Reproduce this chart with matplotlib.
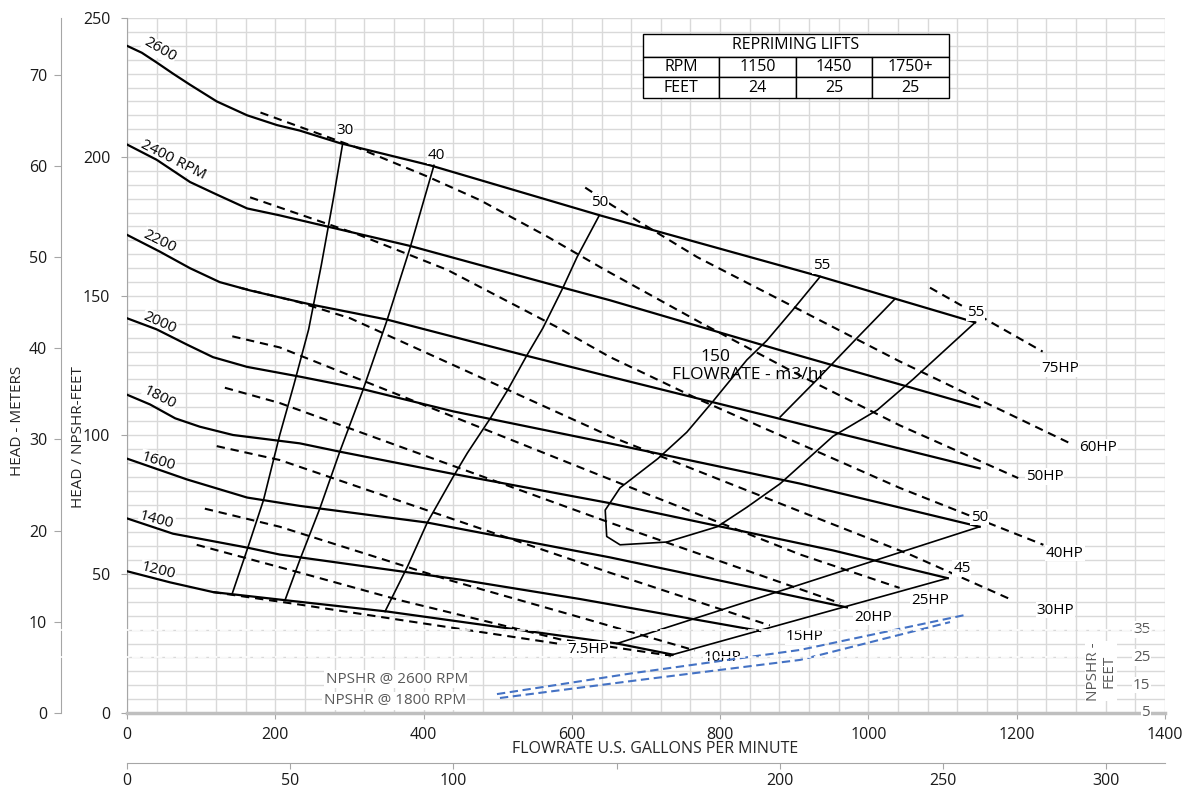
import numpy as np
import matplotlib
matplotlib.use('Agg')
import matplotlib.pyplot as plt
import matplotlib.transforms as mtransforms
from matplotlib.lines import Line2D

plt.rcParams['font.family'] = ['Open Sans', 'DejaVu Sans']

# ==============================
# data: head curves (gpm, ft)
# ==============================
rpm_labels = ['2600', '2400 RPM', '2200', '2000', '1800', '1600', '1400', '1200']

rpm_2600_q = [0, 20, 40, 62, 85, 121, 162, 202, 233, 287, 409, 638, 935, 1144]
rpm_2600_h = [240, 237.5, 234, 230, 226, 220, 215, 211.5, 209.5, 205, 197, 179, 157, 140.5]
rpm_2400_q = [0, 40, 85, 121, 162, 206, 270, 382, 588, 651, 881, 1150]
rpm_2400_h = [204.5, 199, 191, 186.5, 181.5, 179, 175, 168, 153, 148.5, 130.5, 110]
rpm_2200_q = [0, 44, 85, 125, 166, 206, 247, 351, 539, 651, 908, 1150]
rpm_2200_h = [172, 166, 160, 155, 152, 149.5, 147, 141.5, 128.5, 121, 104, 88]
rpm_2000_q = [0, 40, 81, 116, 162, 233, 318, 440, 651, 908, 1150]
rpm_2000_h = [142, 138, 132.5, 128, 124.5, 121, 116.5, 108.5, 97, 82.5, 67]
rpm_1800_q = [0, 31, 65, 98, 143, 233, 287, 440, 651, 952, 1107]
rpm_1800_h = [114.5, 111, 106, 103, 100, 97, 94, 86, 75.5, 58.5, 48.5]
rpm_1600_q = [0, 81, 162, 233, 405, 651, 971]
rpm_1600_h = [91.5, 84, 77.5, 74.5, 68.5, 56, 38]
rpm_1400_q = [0, 62, 162, 206, 449, 611, 854]
rpm_1400_h = [70, 64.5, 59.5, 57, 48, 41, 29.5]
rpm_1200_q = [0, 58, 116, 216, 351, 661, 736]
rpm_1200_h = [51, 47, 43.5, 40.5, 36.5, 25, 21]

# label spots and angles for the speed curves
rpm_lab_q = [44, 62, 44, 44, 44, 42, 40, 42]
rpm_lab_h = [238.5, 199, 169.5, 140.5, 113.5, 90.5, 69.5, 51]
rpm_lab_rot = [-30, -27, -26, -24, -27, -17, -15, -14]

# efficiency lines (%)
eff30_q = [291, 278, 262, 245, 225, 206, 184, 163, 142]
eff30_h = [205, 184.5, 161, 138, 118, 100, 76.5, 59.5, 43]
eff40_q = [414, 382, 351, 318, 287, 260, 233, 213]
eff40_h = [197, 167.5, 141.5, 116, 94, 73.5, 55, 40.5]
eff50_q = [637, 607, 588, 561, 539, 513, 490, 459, 440, 405, 378, 348]
eff50_h = [179, 164, 153, 138.5, 128.5, 116, 106, 93.5, 85, 68.5, 52.5, 36.5]
eff55_q = [935, 898, 863, 836, 790, 755, 716, 665, 645, 647, 665, 728, 796, 836, 881, 952, 1012, 1060, 1144]
eff55_h = [157, 145, 134, 127, 112, 101, 91.5, 81, 73, 63.5, 60.5, 61.5, 67, 74, 82.5, 99.5, 109, 120, 140.5]
eff55b_q = [1036, 985, 931, 881]
eff55b_h = [149, 135, 120, 106.5]
eff50r_q = [661, 1150]
eff50r_h = [25, 67]
eff45_q = [736, 1107]
eff45_h = [21, 48.5]

eff_labels = ['30', '40', '50', '55', '55', '50', '45']
eff_lab_q = [294, 417, 638, 937, 1144, 1150, 1126]
eff_lab_h = [209.5, 200.5, 183.5, 161, 144, 70.5, 52]

# horsepower lines (dashed)
hp50_q = [180, 314, 405, 476, 566, 644, 773, 907, 1042, 1202]
hp50_h = [216, 203, 193, 184.5, 171.5, 159.5, 140.5, 121.5, 103.5, 84.5]
hp40_q = [166, 310, 432, 580, 651, 773, 1042, 1236]
hp40_h = [185.5, 172.3, 159.4, 138.8, 128.1, 112.6, 81, 60.5]
hp30_q = [152, 229, 301, 652, 908, 1056, 1195]
hp30_h = [153, 148, 142, 99.5, 72.5, 57, 40.5]
hp25_q = [142, 206, 652, 908, 1042]
hp25_h = [135.5, 131.5, 84, 57, 45]
hp20_q = [132, 206, 651, 962]
hp20_h = [117, 111.5, 68.5, 39.5]
hp15_q = [121, 206, 651, 867]
hp15_h = [96, 91, 50.5, 31.5]
hp10_q = [105, 206, 432, 610, 766]
hp10_h = [73.5, 67, 48, 34.5, 22.5]
hp7_q = [94, 233, 369, 584, 736]
hp7_h = [60.5, 50.5, 40.5, 26.5, 20.5]
hp5_q = [116, 233, 368, 580]
hp5_h = [43.5, 39, 33.5, 25]
hp60_q = [618, 655, 769, 1042, 1276]
hp60_h = [189, 182.5, 164, 126.5, 96.5]
hp75_q = [1083, 1235]
hp75_h = [153, 130]

hp_labels = ['75HP', '60HP', '50HP', '40HP', '30HP', '25HP', '20HP', '15HP', '10HP', '7.5HP']
hp_lab_q = [1258, 1310, 1238, 1265, 1252, 1083, 1006, 914, 803, 622]
hp_lab_h = [124, 95.5, 85, 57.5, 37, 40.5, 34.5, 27.5, 20, 23]

# NPSHR (feet, own scale)
npshr_2600_q = [499, 684, 908, 1131]
npshr_2600_ft = [11.8, 19.4, 27.7, 40.3]
npshr_1800_q = [503, 692, 908, 1110]
npshr_1800_ft = [10.4, 16.9, 24.1, 37.7]
npshr_ticks = [35, 25, 15, 5]

# repriming table
table_rpm = ['RPM', '1150', '1450', '1750+']
table_feet = ['FEET', '24', '25', '25']

# ==============================
# figure / axes
# ==============================
W, H = 1186, 791
fig = plt.figure(figsize=(W / 100, H / 100), dpi=100)
ax = fig.add_axes([127 / W, 1 - 713 / H, (1165 - 127) / W, (713 - 18) / H])
ax.set_xlim(0, 1400)
ax.set_ylim(0, 250)

ax.set_xticks(np.arange(0, 1401, 200))
ax.set_yticks(np.arange(0, 251, 50))
ax.set_xticks(np.arange(0, 1401, 40), minor=True)
ax.set_yticks(np.arange(0, 251, 5), minor=True)
ax.grid(which='both', color='#d9d9d9', lw=1)
ax.set_axisbelow(True)
ax.tick_params(which='minor', length=0)
ax.tick_params(axis='both', which='major', labelsize=11.5, colors='#a6a6a6',
               labelcolor='#1a1a1a', length=4)
ax.tick_params(axis='x', pad=6)
ax.tick_params(axis='y', pad=8)
for s in ['top', 'right']:
    ax.spines[s].set_visible(False)
ax.spines['left'].set_color('#a6a6a6')
ax.spines['bottom'].set_color('#bfbfbf')
ax.spines['bottom'].set_linewidth(2.5)

# meters axis
sec_y = ax.secondary_yaxis(-66 / 1038, functions=(lambda f: f / 3.281, lambda m: m * 3.281))
sec_y.set_yticks(np.arange(0, 71, 10))
sec_y.tick_params(labelsize=11.5, colors='#a6a6a6', labelcolor='#1a1a1a', length=5, pad=5)
sec_y.spines['left'].set_color('#a6a6a6')

# m3/hr axis
sec_x = ax.secondary_xaxis(-50 / 695, functions=(lambda g: g / 4.4029, lambda m: m * 4.4029))
sec_x.set_xticks([0, 50, 100, 150, 200, 250, 300])
sec_x.set_xticklabels(['0', '50', '100', '', '200', '250', '300'])
sec_x.tick_params(labelsize=11.5, colors='#a6a6a6', labelcolor='#1a1a1a', length=4, pad=3)
sec_x.spines['bottom'].set_color('#a6a6a6')

# ==============================
# curves
# ==============================
rpm_q = [rpm_2600_q, rpm_2400_q, rpm_2200_q, rpm_2000_q, rpm_1800_q, rpm_1600_q, rpm_1400_q, rpm_1200_q]
rpm_h = [rpm_2600_h, rpm_2400_h, rpm_2200_h, rpm_2000_h, rpm_1800_h, rpm_1600_h, rpm_1400_h, rpm_1200_h]
for q, h in zip(rpm_q, rpm_h):
    ax.plot(q, h, color='black', lw=1.6, solid_joinstyle='round', zorder=3)

for q, h in [(eff30_q, eff30_h), (eff40_q, eff40_h), (eff50_q, eff50_h), (eff55_q, eff55_h),
             (eff55b_q, eff55b_h), (eff50r_q, eff50r_h), (eff45_q, eff45_h)]:
    ax.plot(q, h, color='black', lw=1.2, solid_joinstyle='round', zorder=3)

hp_q = [hp50_q, hp40_q, hp30_q, hp25_q, hp20_q, hp15_q, hp10_q, hp7_q, hp5_q, hp60_q, hp75_q]
hp_h = [hp50_h, hp40_h, hp30_h, hp25_h, hp20_h, hp15_h, hp10_h, hp7_h, hp5_h, hp60_h, hp75_h]
for q, h in zip(hp_q, hp_h):
    ax.plot(q, h, color='black', lw=1.5, dashes=(4, 2.8), zorder=3)

lab_box = dict(fc='white', ec='none', pad=0.6)
# speed labels sit under the curves so the curve starts stay visible
for t, q, h, r in zip(rpm_labels, rpm_lab_q, rpm_lab_h, rpm_lab_rot):
    ax.text(q, h, t, rotation=r, rotation_mode='anchor', ha='center', va='center',
            fontsize=11, bbox=lab_box, zorder=2.5)
for t, q, h in zip(eff_labels, eff_lab_q, eff_lab_h):
    ax.text(q, h, t, ha='center', va='center', fontsize=11, bbox=lab_box, zorder=6)
for t, q, h in zip(hp_labels, hp_lab_q, hp_lab_h):
    ax.text(q, h, t, ha='center', va='center', fontsize=11, bbox=lab_box, zorder=6)

# m3/hr axis title that sits inside the plot
ax.text(794, 128, '150', ha='center', va='center', fontsize=12.5, zorder=6)
ax.text(838, 121.5, 'FLOWRATE - m3/hr', ha='center', va='center', fontsize=12.5, zorder=6)

# repriming table
t1 = ax.table(cellText=[['REPRIMING LIFTS']], cellLoc='center',
              bbox=[0.4971, 0.9439, 0.2948, 0.0331])
t2 = ax.table(cellText=[table_rpm, table_feet], cellLoc='center',
              bbox=[0.4971, 0.8849, 0.2948, 0.0590])
for t in (t1, t2):
    t.auto_set_font_size(False)
    t.set_fontsize(11.5)
    t.set_zorder(7)
    for c in t.get_celld().values():
        c.set_edgecolor('black')
        c.set_linewidth(1)

# ==============================
# NPSHR overlay
# ==============================
ax2 = ax.twinx()
ax2.set_ylim(5, 255)
ax2.axis('off')
ax2.plot(npshr_2600_q, npshr_2600_ft, color='#4472C4', lw=1.5, dashes=(4, 2.2))
ax2.plot(npshr_1800_q, npshr_1800_ft, color='#4472C4', lw=1.5, dashes=(4, 2.2))
ax2.text(364, 17.2, 'NPSHR @ 2600 RPM', ha='center', va='center', fontsize=11,
         color='#595959', bbox=dict(fc='white', ec='none', pad=1))
ax2.text(361, 9.4, 'NPSHR @ 1800 RPM', ha='center', va='center', fontsize=11,
         color='#595959', bbox=dict(fc='white', ec='none', pad=1))
for v in npshr_ticks:
    ax2.text(1380, v, str(v), ha='right', va='center', fontsize=11, color='#595959',
             bbox=dict(fc='white', ec='none', pad=0.5))
ax2.text(1314, 20, 'NPSHR -\nFEET', rotation=90, ha='center', va='center', fontsize=11,
         color='#595959', linespacing=1.0, bbox=dict(fc='white', ec='none', pad=0.5))

blend = mtransforms.blended_transform_factory(fig.transFigure, ax2.transData)
for v, x1 in [(35, 1.0), (25, 0.93)]:
    ax2.add_line(Line2D([0, x1], [v, v], transform=blend, color='white', lw=1.2,
                        dashes=(5, 1.6), clip_on=False, zorder=20))

# axis titles
fig.text(18 / W, 1 - 421 / H, 'HEAD - METERS', rotation=90, ha='center', va='center',
         fontsize=11, color='#262626')
fig.text(78 / W, 1 - 437 / H, 'HEAD / NPSHR-FEET', rotation=90, ha='center', va='center',
         fontsize=11, color='#262626')
fig.text(655 / W, 1 - 749 / H, 'FLOWRATE U.S. GALLONS PER MINUTE', ha='center', va='center',
         fontsize=11.5, color='#262626')

plt.savefig('out.png', dpi=100)
